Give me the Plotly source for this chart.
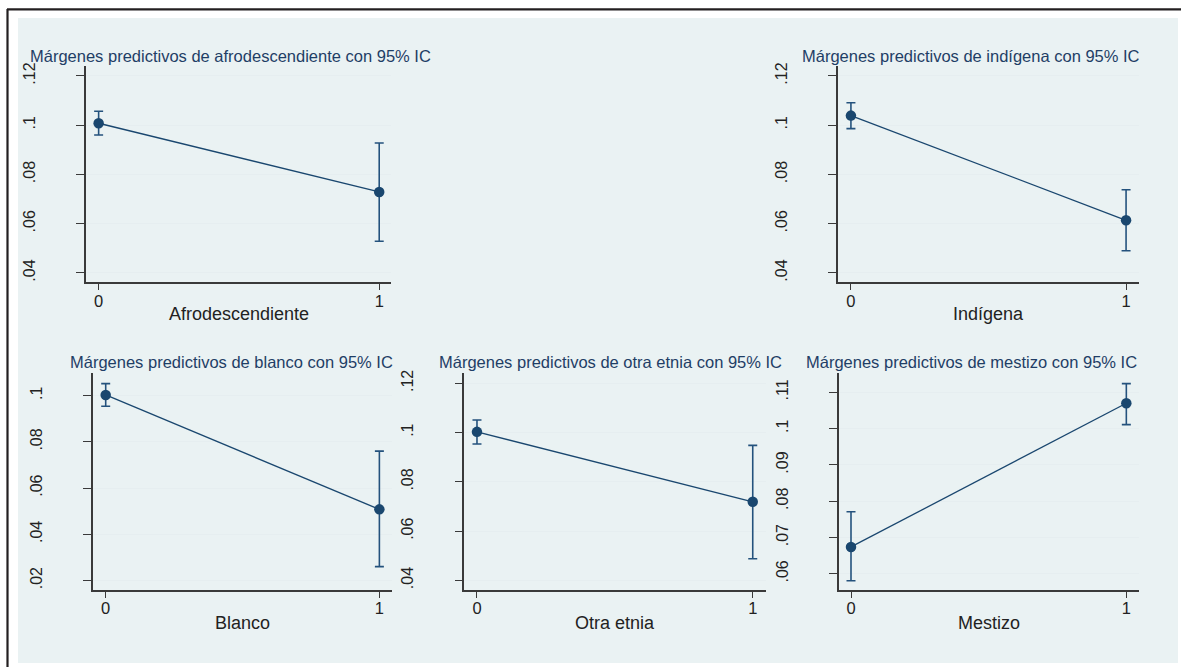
import plotly.graph_objects as go

W, H = 1181, 667

# ---------------- data ----------------
categories = [0, 1]
x_tick_labels = ["0", "1"]

afro_est = [0.1008, 0.0729]
afro_lo = [0.0960, 0.0529]
afro_hi = [0.1057, 0.0928]

ind_est = [0.1039, 0.0614]
ind_lo = [0.0986, 0.0490]
ind_hi = [0.1091, 0.0738]

blanco_est = [0.1003, 0.0508]
blanco_lo = [0.0954, 0.0260]
blanco_hi = [0.1052, 0.0760]

otra_est = [0.1003, 0.0719]
otra_lo = [0.0954, 0.0488]
otra_hi = [0.1051, 0.0948]

mest_est = [0.0674, 0.1070]
mest_lo = [0.0581, 0.1011]
mest_hi = [0.0771, 0.1124]

ticks_a = [0.04, 0.06, 0.08, 0.10, 0.12]
ticks_a_text = [".04", ".06", ".08", ".1", ".12"]
ticks_b = [0.02, 0.04, 0.06, 0.08, 0.10]
ticks_b_text = [".02", ".04", ".06", ".08", ".1"]
ticks_c = [0.06, 0.07, 0.08, 0.09, 0.10, 0.11]
ticks_c_text = [".06", ".07", ".08", ".09", ".1", ".11"]

titles = [
    "Márgenes predictivos de afrodescendiente con 95% IC",
    "Márgenes predictivos de indígena con 95% IC",
    "Márgenes predictivos de blanco con 95% IC",
    "Márgenes predictivos de otra etnia con 95% IC",
    "Márgenes predictivos de mestizo con 95% IC",
]
xtitles = ["Afrodescendiente", "Indígena", "Blanco", "Otra etnia", "Mestizo"]

# ---------------- layout geometry (pixels) ----------------
panels = [
    dict(box=(86, 391, 62, 280), xr=[-0.045, 1.042], yr=[0.0362, 0.1242],
         tv=ticks_a, tt=ticks_a_text, tx=230, ty=52,
         est=afro_est, lo=afro_lo, hi=afro_hi),
    dict(box=(838, 1139, 62, 280), xr=[-0.047, 1.047], yr=[0.0362, 0.1242],
         tv=ticks_a, tt=ticks_a_text, tx=971, ty=52,
         est=ind_est, lo=ind_lo, hi=ind_hi),
    dict(box=(92.7, 391.7, 371.7, 589.3), xr=[-0.0475, 1.045], yr=[0.016, 0.1096],
         tv=ticks_b, tt=ticks_b_text, tx=231, ty=360.5,
         est=blanco_est, lo=blanco_lo, hi=blanco_hi),
    dict(box=(464.3, 765.7, 371.7, 589.3), xr=[-0.046, 1.047], yr=[0.0362, 0.124],
         tv=ticks_a, tt=ticks_a_text, tx=610, ty=360.5,
         est=otra_est, lo=otra_lo, hi=otra_hi),
    dict(box=(839, 1139, 371.7, 589.3), xr=[-0.0436, 1.046], yr=[0.0556, 0.1152],
         tv=ticks_c, tt=ticks_c_text, tx=971.5, ty=360.5,
         est=mest_est, lo=mest_lo, hi=mest_hi),
]

NAVY = "#1A476F"
BG = "#EAF2F3"
GRID = "#E6EEF0"
AXIS = "#3a3a3a"
TXT = "#222222"
TITLE_C = "#1f3e66"
FONT = "Liberation Sans, Arial, sans-serif"

fig = go.Figure()
layout = dict(
    width=W, height=H,
    margin=dict(l=0, r=0, t=0, b=0),
    paper_bgcolor="white",
    plot_bgcolor="white",
    showlegend=False,
    font=dict(family=FONT, color=TXT),
)

annotations = []
shapes = [
    dict(type="rect", xref="paper", yref="paper",
         x0=18 / W, x1=1178 / W, y0=1 - 663 / H, y1=1 - 14 / H,
         fillcolor=BG, line=dict(width=0), layer="below"),
    dict(type="line", xref="paper", yref="paper",
         x0=7 / W, x1=1.0, y0=1 - 5.5 / H, y1=1 - 5.5 / H,
         line=dict(color="#231f20", width=2.2)),
    dict(type="line", xref="paper", yref="paper",
         x0=7.5 / W, x1=7.5 / W, y0=0, y1=1 - 5 / H,
         line=dict(color="#231f20", width=2.2)),
]

for i, p in enumerate(panels, start=1):
    x0, x1, y0, y1 = p["box"]
    xa = "xaxis" if i == 1 else f"xaxis{i}"
    ya = "yaxis" if i == 1 else f"yaxis{i}"
    xref = "x" if i == 1 else f"x{i}"
    yref = "y" if i == 1 else f"y{i}"

    est, lo, hi = p["est"], p["lo"], p["hi"]
    plus = [h - e for h, e in zip(hi, est)]
    minus = [e - l for e, l in zip(est, lo)]

    fig.add_trace(go.Scatter(
        x=categories, y=est, xaxis=xref, yaxis=yref,
        mode="lines+markers",
        line=dict(color=NAVY, width=1.3),
        marker=dict(color=NAVY, size=10.5, symbol="circle"),
        error_y=dict(type="data", array=plus, arrayminus=minus, visible=True,
                     color="#24527d", thickness=1.6, width=4.5),
        hoverinfo="skip",
    ))

    layout[xa] = dict(
        domain=[x0 / W, x1 / W], anchor=yref, range=p["xr"],
        tickmode="array", tickvals=categories, ticktext=x_tick_labels,
        showgrid=False, zeroline=False,
        showline=True, linecolor=AXIS, linewidth=1.5,
        ticks="outside", ticklen=6, tickwidth=1.2, tickcolor=AXIS,
        tickfont=dict(size=16.5, color=TXT, family=FONT),
        ticklabelstandoff=-3,
    )
    layout[ya] = dict(
        domain=[1 - y1 / H, 1 - y0 / H], anchor=xref, range=p["yr"],
        tickmode="array", tickvals=p["tv"], ticktext=p["tt"],
        showgrid=True, gridcolor=GRID, gridwidth=1.2, zeroline=False,
        showline=True, linecolor=AXIS, linewidth=1.5,
        ticks="outside", ticklen=8, tickwidth=1.2, tickcolor=AXIS,
        tickangle=-90,
        tickfont=dict(size=16, color=TXT, family=FONT),
        ticklabelstandoff=35,
    )

    annotations.append(dict(
        text=titles[i - 1], xref="paper", yref="paper",
        x=p["tx"] / W, y=1 - p["ty"] / H, xanchor="center", yanchor="middle",
        showarrow=False, font=dict(size=16.5, color=TITLE_C, family=FONT),
    ))
    xt_y = 312 if i <= 2 else 623
    annotations.append(dict(
        text=xtitles[i - 1], xref=f"{xref} domain", yref="paper",
        x=0.5, y=1 - xt_y / H, xanchor="center", yanchor="middle",
        showarrow=False, font=dict(size=18, color=TXT, family=FONT),
    ))

layout["annotations"] = annotations
layout["shapes"] = shapes
fig.update_layout(**layout)

fig.write_html(
    "out.html",
    config={"displayModeBar": False},
    post_script="document.body.style.margin='0';document.body.style.overflow='hidden';",
)
